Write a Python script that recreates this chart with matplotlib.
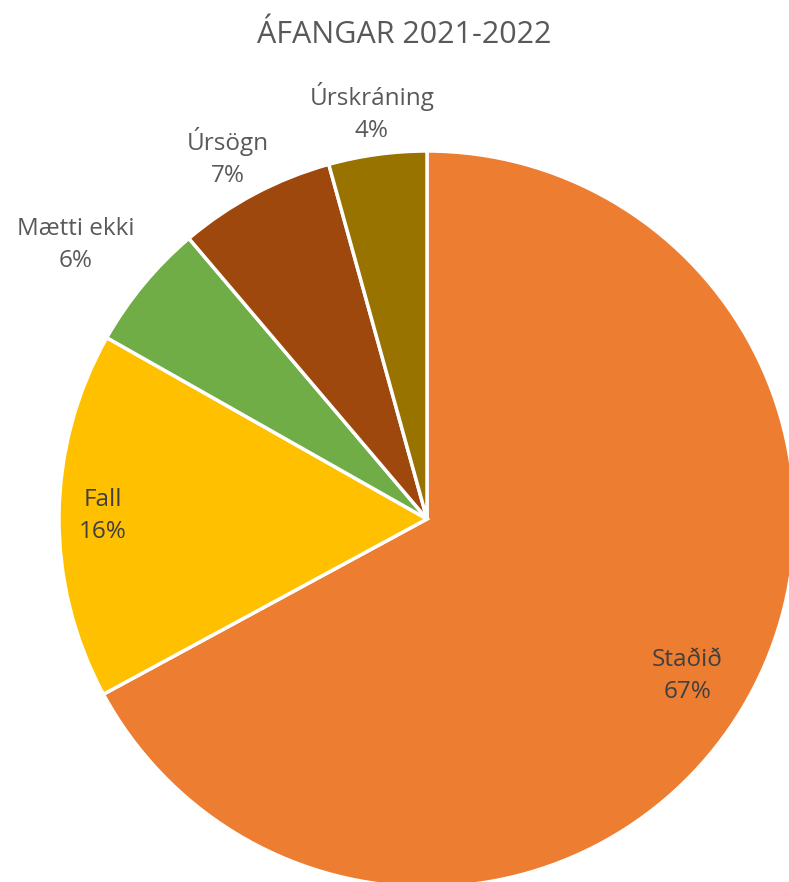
import matplotlib
matplotlib.use("Agg")
import matplotlib.pyplot as plt
import numpy as np

plt.rcParams['font.family'] = ['Open Sans', 'DejaVu Sans']

title = "ÁFANGAR 2021-2022"
categories = ["Staðið", "Fall", "Mætti ekki", "Úrsögn", "Úrskráning"]
values = [67.1, 16.1, 5.6, 6.9, 4.3]
colors = ["#ED7D31", "#FFC000", "#70AD47", "#9E480E", "#997300"]
label_dist = [0.826, 0.88, 1.21, 1.121, 1.115]
label_angle_shift = [-0.3, 0.0, 1.6, 1.0, 0.0]

W, H = 789, 882
fig = plt.figure(figsize=(W / 100, H / 100), dpi=100)
cx, cy, r = 427, 519, 368
ax = fig.add_axes([(cx - r) / W, (H - cy - r) / H, 2 * r / W, 2 * r / H])

wedges, _ = ax.pie(values, colors=colors, startangle=90, counterclock=False,
                   radius=1, wedgeprops=dict(edgecolor='white', linewidth=2.5),
                   labels=None)
for w in wedges:
    w.set_clip_on(False)
ax.set_xlim(-1, 1)
ax.set_ylim(-1, 1)
ax.set_aspect('equal')
ax.axis('off')

total = sum(values)
for w, cat, v, d, s in zip(wedges, categories, values, label_dist, label_angle_shift):
    ang = np.deg2rad((w.theta1 + w.theta2) / 2 + s)
    x, y = d * np.cos(ang), d * np.sin(ang)
    t = ax.text(x, y, f"{cat}\n{round(100 * v / total)}%", ha='center', va='center',
                fontsize=17.5, color='#404040' if d < 1 else '#595959', linespacing=1.45)
    t.set_clip_on(False)

fig.text(404 / W, 1 - 35 / H, title, ha='center', va='center', fontsize=22, color='#595959')

fig.savefig("out.png", dpi=100)
